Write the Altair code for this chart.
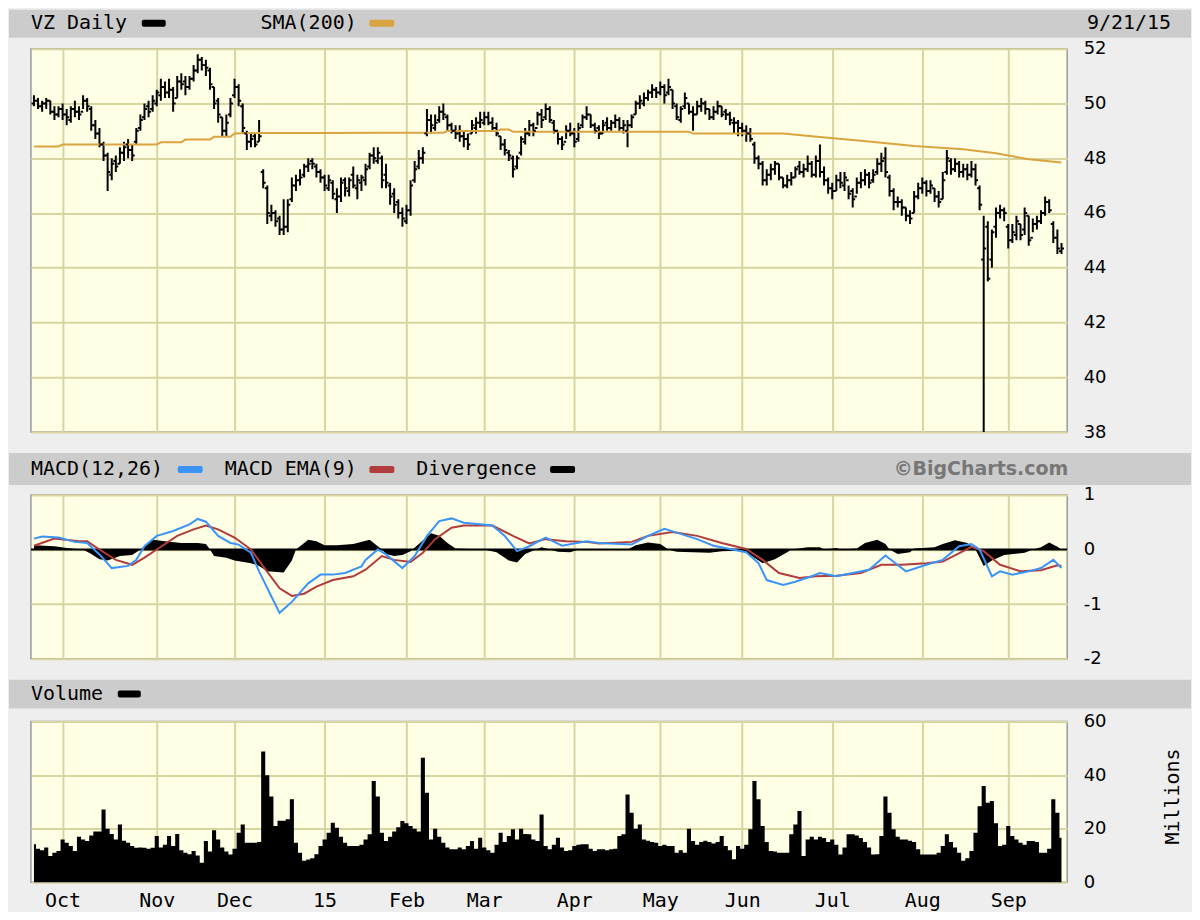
import json
import altair as alt
import pandas as pd

# ---------------- data (trading-day index 0 = 22 Sep 2014 ... 251 = 21 Sep 2015) -------------
month_names = ["Oct", "Nov", "Dec", "15", "Feb", "Mar", "Apr", "May", "Jun", "Jul", "Aug", "Sep"]
month_start_idx = [7, 30, 49, 71, 91, 110, 132, 153, 173, 195, 217, 238]

high = [
    50.3, 50.2, 50.1, 50.2, 50.1, 49.9, 49.9, 50.0, 49.8, 49.9,
    50.1, 49.9, 50.3, 50.2, 49.9, 49.4, 49.1, 48.6, 48.2, 48.0,
    48.1, 48.4, 48.6, 48.7, 48.5, 49.1, 49.6, 50.0, 50.1, 50.3,
    50.5, 50.9, 50.8, 50.9, 50.6, 51.0, 51.1, 51.0, 51.0, 51.4,
    51.8, 51.7, 51.6, 51.3, 50.6, 50.2, 49.5, 49.6, 50.2, 50.9,
    50.7, 50.0, 49.0, 48.9, 48.9, 49.4, 47.6, 47.0, 46.3, 46.1,
    45.9, 46.5, 46.5, 47.3, 47.4, 47.6, 47.8, 48.0, 48.0, 47.8,
    47.6, 47.4, 47.4, 47.2, 46.9, 47.3, 47.3, 47.3, 47.7, 47.4,
    47.4, 47.8, 48.2, 48.4, 48.4, 48.1, 47.8, 47.1, 46.9, 46.5,
    46.2, 46.3, 47.2, 47.9, 48.3, 48.4, 49.8, 49.6, 49.6, 49.9,
    50.0, 49.6, 49.3, 49.2, 49.2, 49.0, 48.9, 49.4, 49.5, 49.7,
    49.7, 49.7, 49.5, 49.3, 48.8, 48.7, 48.3, 48.1, 48.1, 48.8,
    49.1, 49.4, 49.3, 49.7, 49.8, 50.0, 49.9, 49.4, 49.0, 48.8,
    49.2, 49.3, 49.1, 49.3, 49.6, 49.9, 49.6, 49.3, 49.2, 49.4,
    49.5, 49.4, 49.6, 49.5, 49.4, 49.4, 49.6, 50.1, 50.3, 50.4,
    50.5, 50.7, 50.6, 50.8, 50.7, 50.9, 50.5, 50.0, 49.9, 50.4,
    50.0, 49.9, 50.1, 50.2, 50.1, 49.8, 49.9, 50.1, 49.9, 49.8,
    49.7, 49.5, 49.4, 49.3, 49.2, 49.1, 48.6, 48.1, 47.9, 47.6,
    47.8, 47.9, 47.8, 47.3, 47.4, 47.5, 47.7, 47.9, 47.8, 48.1,
    47.9, 48.1, 48.5, 47.7, 47.3, 47.1, 47.4, 47.5, 47.5, 47.0,
    46.9, 47.3, 47.5, 47.6, 47.5, 47.6, 48.0, 48.2, 48.4, 47.4,
    46.9, 46.6, 46.5, 46.2, 46.1, 46.8, 47.1, 47.3, 47.2, 47.2,
    46.9, 46.8, 47.5, 48.3, 48.0, 48.0, 47.9, 47.8, 47.8, 47.9,
    47.8, 47.0, 45.9, 45.7, 45.4, 46.2, 46.3, 46.2, 45.6, 45.6,
    45.9, 45.6, 46.2, 45.9, 45.8, 45.9, 46.1, 46.6, 46.5, 45.7,
    45.4, 44.9,
]
low = [
    49.9, 49.8, 49.7, 49.8, 49.6, 49.4, 49.5, 49.4, 49.2, 49.3,
    49.5, 49.4, 49.8, 49.7, 49.0, 48.7, 48.4, 47.9, 46.8, 47.2,
    47.5, 47.8, 47.9, 48.0, 47.9, 48.5, 49.0, 49.4, 49.5, 49.7,
    49.9, 50.1, 50.2, 50.2, 49.7, 50.2, 50.5, 50.3, 50.5, 50.8,
    51.1, 51.2, 51.0, 50.5, 49.8, 49.3, 48.8, 48.8, 49.5, 50.2,
    49.9, 48.9, 48.3, 48.4, 48.4, 48.6, 46.9, 45.6, 45.7, 45.5,
    45.2, 45.2, 45.3, 46.4, 46.8, 47.0, 47.3, 47.5, 47.6, 47.3,
    47.1, 46.8, 46.8, 46.5, 46.0, 46.4, 46.6, 46.6, 46.9, 46.5,
    46.8, 47.0, 47.6, 47.8, 47.8, 46.9, 46.9, 46.3, 46.0, 45.8,
    45.5, 45.6, 45.9, 47.1, 47.6, 47.8, 48.8, 48.9, 49.0, 49.3,
    49.4, 49.0, 48.9, 48.7, 48.6, 48.4, 48.3, 48.9, 48.9, 49.1,
    49.2, 49.2, 49.0, 48.8, 48.3, 48.1, 47.9, 47.3, 47.6, 48.1,
    48.5, 48.8, 48.8, 49.2, 49.1, 49.4, 49.3, 48.9, 48.5, 48.3,
    48.7, 48.8, 48.4, 48.6, 49.1, 49.4, 49.1, 48.9, 48.7, 48.9,
    49.0, 49.0, 49.1, 49.0, 48.9, 48.4, 49.1, 49.6, 49.8, 49.9,
    50.1, 50.2, 50.2, 50.3, 50.0, 50.3, 49.8, 49.4, 49.3, 49.8,
    49.6, 49.0, 49.6, 49.7, 49.6, 49.4, 49.4, 49.6, 49.5, 49.4,
    49.2, 48.9, 48.8, 48.8, 48.6, 48.6, 47.8, 47.6, 47.0, 47.0,
    47.2, 47.4, 47.2, 46.9, 46.9, 47.0, 47.3, 47.4, 47.3, 47.5,
    47.3, 47.3, 47.3, 47.0, 46.7, 46.5, 46.8, 46.9, 46.8, 46.5,
    46.2, 46.7, 46.9, 47.0, 46.9, 47.1, 47.4, 47.5, 47.3, 46.6,
    46.1, 46.2, 45.9, 45.7, 45.6, 46.0, 46.5, 46.7, 46.6, 46.7,
    46.4, 46.2, 46.5, 47.4, 47.4, 47.5, 47.3, 47.3, 47.2, 47.3,
    47.0, 46.1, 38.0, 43.5, 44.0, 45.1, 45.8, 45.7, 44.7, 44.9,
    45.0, 45.0, 45.2, 44.8, 45.3, 45.4, 45.6, 45.9, 46.0, 44.9,
    44.5, 44.5,
]
close = [
    50.1, 49.9, 50.0, 50.1, 49.7, 49.6, 49.8, 49.6, 49.5, 49.8,
    49.7, 49.6, 50.1, 49.9, 49.2, 48.9, 48.5, 48.1, 47.5, 47.8,
    47.7, 48.2, 48.4, 48.3, 48.1, 49.0, 49.4, 49.8, 49.7, 50.1,
    50.4, 50.6, 50.4, 50.5, 50.0, 50.8, 50.7, 50.6, 50.9, 51.2,
    51.6, 51.4, 51.3, 50.7, 50.0, 49.6, 49.0, 49.3, 50.0, 50.6,
    50.1, 49.1, 48.6, 48.7, 48.5, 48.8, 47.1, 46.0, 46.0, 45.7,
    45.4, 45.5, 46.3, 47.0, 47.2, 47.3, 47.7, 47.8, 47.8, 47.5,
    47.3, 47.0, 47.2, 46.7, 46.6, 47.1, 46.9, 47.2, 47.0, 47.2,
    47.3, 47.6, 48.1, 48.0, 48.2, 47.2, 47.1, 46.6, 46.3, 46.0,
    45.8, 46.1, 47.0, 47.6, 48.0, 48.2, 49.4, 49.2, 49.3, 49.7,
    49.6, 49.2, 49.0, 48.9, 48.8, 48.7, 48.5, 49.2, 49.3, 49.4,
    49.5, 49.3, 49.1, 48.9, 48.5, 48.3, 48.1, 47.6, 48.0, 48.7,
    48.9, 49.2, 49.0, 49.6, 49.4, 49.8, 49.4, 49.0, 48.7, 48.5,
    49.0, 48.9, 48.6, 49.1, 49.5, 49.6, 49.2, 49.0, 48.9, 49.2,
    49.1, 49.3, 49.4, 49.1, 49.2, 49.2, 49.5, 50.0, 50.1, 50.2,
    50.4, 50.5, 50.4, 50.6, 50.3, 50.6, 50.0, 49.5, 49.8, 50.2,
    49.7, 49.6, 49.9, 50.0, 49.8, 49.5, 49.7, 49.9, 49.6, 49.6,
    49.4, 49.3, 49.1, 49.0, 48.9, 48.7, 48.0, 47.8, 47.2, 47.4,
    47.6, 47.8, 47.3, 47.0, 47.2, 47.3, 47.6, 47.5, 47.6, 47.8,
    47.4, 47.9, 47.5, 47.2, 46.9, 46.8, 47.2, 47.1, 47.3, 46.7,
    46.5, 47.1, 47.2, 47.4, 47.1, 47.4, 47.8, 47.9, 47.5, 46.8,
    46.4, 46.4, 46.2, 45.9, 45.8, 46.6, 46.9, 47.1, 46.8, 47.0,
    46.6, 46.4, 47.2, 48.0, 47.6, 47.8, 47.5, 47.6, 47.4, 47.6,
    47.2, 46.3, 44.7, 43.6, 45.3, 46.0, 46.1, 46.0, 45.0, 45.3,
    45.7, 45.2, 46.0, 45.0, 45.6, 45.7, 46.0, 46.4, 46.1, 45.1,
    44.7, 44.7,
]
open_ = [
    50.0, 50.1, 49.9, 50.0, 50.1, 49.7, 49.6, 49.8, 49.6, 49.4,
    49.8, 49.7, 49.7, 50.1, 49.8, 49.2, 48.9, 48.5, 48.1, 47.4,
    47.9, 47.8, 48.2, 48.5, 48.3, 48.6, 49.1, 49.5, 49.9, 49.8,
    50.0, 50.3, 50.6, 50.4, 50.5, 50.2, 50.8, 50.8, 50.6, 50.9,
    51.2, 51.6, 51.4, 51.2, 50.6, 50.1, 49.5, 49.0, 49.6, 50.3,
    50.6, 49.9, 48.9, 48.6, 48.8, 48.6, 47.5, 46.9, 45.9, 46.0,
    45.8, 45.4, 45.5, 46.5, 47.0, 47.2, 47.4, 47.7, 47.9, 47.7,
    47.5, 47.3, 46.9, 47.1, 46.5, 46.6, 47.2, 46.8, 47.4, 46.9,
    47.1, 47.2, 47.7, 48.1, 47.9, 48.0, 47.4, 47.0, 46.7, 46.4,
    46.0, 45.7, 46.1, 47.2, 47.7, 48.0, 48.9, 49.4, 49.1, 49.4,
    49.7, 49.5, 49.2, 49.0, 48.9, 48.8, 48.7, 48.9, 49.1, 49.3,
    49.3, 49.5, 49.3, 49.1, 48.8, 48.5, 48.2, 48.0, 47.7, 48.2,
    48.6, 48.9, 49.2, 49.1, 49.6, 49.5, 49.8, 49.3, 49.0, 48.7,
    48.6, 49.0, 48.9, 48.7, 49.2, 49.5, 49.6, 49.2, 49.1, 48.9,
    49.3, 49.1, 49.3, 49.4, 49.1, 49.0, 49.2, 49.6, 50.0, 50.0,
    50.2, 50.4, 50.5, 50.4, 50.6, 50.4, 50.5, 49.9, 49.4, 49.9,
    50.0, 49.7, 49.6, 49.9, 50.0, 49.8, 49.5, 49.7, 49.9, 49.7,
    49.6, 49.3, 49.3, 49.1, 49.0, 48.9, 48.5, 48.0, 47.8, 47.2,
    47.4, 47.6, 47.8, 47.3, 47.0, 47.2, 47.3, 47.7, 47.5, 47.6,
    47.8, 47.4, 47.9, 47.5, 47.2, 46.9, 46.8, 47.2, 47.0, 47.2,
    46.8, 46.6, 47.1, 47.2, 47.4, 47.2, 47.5, 47.8, 48.0, 47.3,
    46.8, 46.4, 46.4, 46.2, 45.9, 46.0, 46.6, 46.9, 47.1, 46.8,
    46.9, 46.6, 46.5, 47.5, 47.9, 47.6, 47.8, 47.5, 47.6, 47.4,
    47.6, 46.9, 44.3, 45.5, 44.3, 45.5, 46.0, 46.1, 45.5, 45.0,
    45.2, 45.6, 45.4, 45.9, 45.1, 45.6, 45.7, 46.0, 46.4, 45.6,
    45.1, 44.6,
]
volume = [  # millions of shares
    14.2, 12.5, 12.0, 13.0, 9.8, 11.0, 11.7, 16.0, 14.8, 13.5,
    11.7, 17.0, 16.0, 15.4, 17.5, 19.0, 19.0, 27.2, 20.0, 18.0,
    16.0, 21.6, 15.5, 14.8, 13.5, 12.9, 13.0, 12.9, 12.5, 12.9,
    17.3, 13.0, 14.0, 17.3, 13.5, 18.0, 12.0, 11.0, 10.5, 11.7,
    10.0, 7.3, 15.4, 11.5, 19.4, 16.0, 13.0, 11.5, 10.4, 12.5,
    18.5, 21.6, 14.8, 14.8, 14.8, 15.0, 48.8, 40.0, 32.0, 21.0,
    23.0, 23.0, 23.5, 31.0, 14.8, 11.0, 8.0, 8.5, 9.0, 10.5,
    13.5, 16.0, 18.5, 22.2, 20.4, 17.0, 14.8, 13.5, 13.5, 13.5,
    14.0, 16.0, 17.9, 37.8, 32.0, 18.5, 15.4, 17.0, 19.0, 20.5,
    22.9, 22.0, 21.0, 20.0, 19.0, 46.5, 33.4, 16.0, 20.0, 17.0,
    14.8, 13.0, 12.3, 12.3, 13.0, 12.3, 13.5, 15.4, 12.5, 16.6,
    13.0, 12.0, 11.0, 14.0, 18.5, 15.0, 17.3, 19.8, 16.0, 20.0,
    18.0, 17.9, 16.0, 15.4, 25.3, 13.5, 12.3, 14.0, 16.6, 13.0,
    11.7, 12.0, 13.5, 14.0, 14.2, 14.2, 12.5, 11.7, 12.3, 12.3,
    12.0, 12.3, 12.5, 17.3, 17.9, 32.8, 26.0, 20.0, 21.6, 16.0,
    15.5, 15.0, 14.8, 13.5, 14.0, 13.5, 13.5, 11.0, 12.0, 11.0,
    20.0, 15.4, 14.0, 15.0, 15.5, 15.0, 14.5, 15.0, 17.3, 13.5,
    12.0, 8.6, 13.5, 12.5, 14.0, 19.8, 37.8, 31.0, 21.0, 15.0,
    11.7, 11.5, 11.0, 11.0, 11.0, 17.9, 21.6, 26.6, 9.8, 16.0,
    17.0, 16.0, 17.0, 16.5, 15.0, 16.0, 14.0, 10.4, 13.0, 17.9,
    17.9, 17.5, 16.5, 15.0, 13.0, 10.4, 10.5, 17.3, 32.0, 26.0,
    19.8, 17.0, 16.0, 16.0, 15.5, 15.0, 12.3, 10.4, 10.4, 10.4,
    10.4, 11.0, 13.5, 17.9, 15.0, 13.0, 11.0, 8.0, 9.0, 11.7,
    18.5, 28.4, 35.9, 29.7, 30.3, 22.0, 13.5, 14.0, 21.0, 17.3,
    16.0, 14.8, 14.0, 15.4, 15.4, 15.0, 11.0, 11.0, 12.5, 31.0,
    26.0, 16.6,
]

sma_idx = [0, 6, 7, 30, 31, 36, 37, 43, 44, 48, 49, 55, 70, 85, 100, 101, 113, 114, 116, 117,
           160, 161, 171, 183, 190, 204, 215, 227, 235, 243, 251]
sma_val = [48.43, 48.43, 48.50, 48.50, 48.58, 48.58, 48.68, 48.68, 48.78, 48.78, 48.90, 48.92,
           48.92, 48.93, 48.93, 48.99, 48.99, 49.05, 49.05, 48.97, 48.97, 48.90, 48.90, 48.90,
           48.80, 48.61, 48.45, 48.33, 48.18, 47.96, 47.84]

macd_idx = [0, 2, 6, 10, 13, 16, 19, 23, 25, 27, 30, 34, 38, 40, 42, 45, 48, 50, 53, 55, 58, 60,
            63, 67, 70, 73, 76, 80, 81, 84, 86, 90, 93, 96, 99, 102, 105, 112, 115, 118, 121, 125,
            129, 135, 138, 146, 150, 154, 157, 162, 166, 174, 177, 179, 183, 186, 190, 192, 196,
            200, 204, 208, 213, 218, 222, 226, 229, 231, 234, 236, 239, 243, 246, 249, 251]
macd_val = [0.20, 0.24, 0.22, 0.14, 0.12, -0.09, -0.34, -0.30, -0.19, 0.06, 0.25, 0.34, 0.46,
            0.56, 0.51, 0.25, 0.12, 0.09, -0.06, -0.40, -0.86, -1.16, -0.96, -0.62, -0.46, -0.46,
            -0.43, -0.31, -0.19, 0.0, -0.09, -0.34, -0.12, 0.25, 0.52, 0.57, 0.49, 0.44, 0.25,
            -0.03, 0.06, 0.22, 0.07, 0.15, 0.12, 0.09, 0.25, 0.38, 0.31, 0.19, 0.07, -0.05, -0.25,
            -0.56, -0.65, -0.59, -0.49, -0.43, -0.49, -0.43, -0.37, -0.11, -0.40, -0.28, -0.19,
            0.06, 0.10, 0.0, -0.49, -0.40, -0.46, -0.40, -0.34, -0.19, -0.34]

ema_idx = [0, 5, 11, 13, 16, 20, 24, 27, 30, 35, 39, 42, 45, 49, 53, 56, 60, 63, 66, 69, 73, 78,
           81, 85, 88, 92, 95, 98, 102, 105, 112, 117, 121, 125, 130, 135, 138, 146, 150, 156,
           162, 168, 174, 178, 182, 187, 191, 196, 202, 207, 212, 218, 222, 227, 229, 232, 236,
           241, 246, 250, 251]
ema_val = [0.07, 0.20, 0.15, 0.15, 0.0, -0.19, -0.28, -0.15, 0.0, 0.25, 0.37, 0.44, 0.37, 0.22,
           0.0, -0.31, -0.71, -0.85, -0.81, -0.68, -0.56, -0.49, -0.37, -0.12, -0.19, -0.23,
           -0.06, 0.19, 0.40, 0.44, 0.44, 0.25, 0.11, 0.19, 0.15, 0.14, 0.11, 0.14, 0.25, 0.32,
           0.25, 0.12, 0.01, -0.19, -0.43, -0.52, -0.49, -0.48, -0.43, -0.28, -0.28, -0.25,
           -0.22, -0.03, 0.05, -0.03, -0.28, -0.40, -0.38, -0.29, -0.30]

div_idx = [0, 5, 8, 12, 14, 16, 18, 21, 24, 26, 28, 29, 32, 36, 40, 42, 43, 44, 47, 49, 53, 55,
           57, 61, 63, 64, 66, 67, 69, 71, 74, 78, 82, 83, 85, 86, 88, 90, 92, 94, 97, 99, 101,
           103, 110, 113, 116, 118, 120, 122, 124, 126, 128, 131, 133, 145, 147, 150, 153, 155,
           157, 165, 168, 173, 175, 178, 181, 184, 185, 189, 192, 193, 196, 197, 201, 203, 206,
           208, 209, 211, 214, 215, 220, 222, 225, 228, 230, 232, 234, 237, 242, 244, 246, 248,
           250, 251]
div_val = [0.08, 0.06, 0.03, 0.0, -0.08, -0.18, -0.20, -0.12, -0.10, 0.0, 0.12, 0.18, 0.15,
           0.12, 0.12, 0.10, 0.0, -0.12, -0.15, -0.20, -0.25, -0.30, -0.40, -0.42, -0.20, 0.0,
           0.12, 0.18, 0.15, 0.08, 0.08, 0.10, 0.18, 0.12, 0.0, -0.08, -0.12, -0.10, -0.03, 0.10,
           0.30, 0.25, 0.12, 0.02, 0.0, -0.05, -0.20, -0.24, -0.08, -0.02, 0.04, 0.0, -0.04,
           -0.05, 0.0, 0.0, 0.08, 0.13, 0.10, 0.0, -0.04, -0.06, -0.03, -0.02, -0.10, -0.25,
           -0.18, -0.05, 0.0, 0.04, 0.04, 0.0, 0.03, 0.0, 0.02, 0.12, 0.18, 0.10, 0.0, -0.08,
           -0.05, 0.02, 0.04, 0.10, 0.17, 0.12, 0.0, -0.30, -0.20, -0.10, -0.06, 0.0, 0.04, 0.13,
           0.05, 0.0]

price_ticks = [38, 40, 42, 44, 46, 48, 50, 52]
macd_ticks = [-2, -1, 0, 1]
vol_ticks = [0, 20, 40, 60]

# ---------------- tables ----------------
days = list(range(len(close)))
price_df = pd.DataFrame({"day": days, "open": open_, "high": high, "low": low, "close": close})
vol_df = pd.DataFrame({"day": days, "vol": volume})
sma_df = pd.DataFrame({"day": sma_idx, "sma": sma_val})
macd_df = pd.DataFrame({"day": macd_idx, "v": macd_val})
ema_df = pd.DataFrame({"day": ema_idx, "v": ema_val})
div_df = pd.DataFrame({"day": div_idx, "v": div_val})

# ---------------- style ----------------
MONO = "DejaVu Sans Mono"
SANS = "DejaVu Sans"
W = 1038
PLOT_BG = "#ffffe6"
GRID = "#d8d5a0"
HEADER_BG = "#cccccc"
PAGE_BG = "#eeeeee"
ORANGE = "#d9a441"
BLUE = "#3a94f5"
RED = "#b23b3b"

xs = alt.Scale(domain=[-0.73, 252.4], nice=False, zero=False)
label_expr = f"{json.dumps(month_names)}[indexof({json.dumps(month_start_idx)}, datum.value)]"


def x_axis(labels):
    if labels:
        return alt.Axis(values=month_start_idx, grid=True, gridColor=GRID, gridWidth=2,
                        domain=False, ticks=False, title=None, labels=True,
                        labelExpr=label_expr, labelFont=MONO, labelFontSize=20,
                        labelColor="black", labelPadding=8, labelFlush=False,
                        labelOverlap=False)
    return alt.Axis(values=month_start_idx, grid=True, gridColor=GRID, gridWidth=2,
                    domain=False, ticks=False, title=None, labels=False)


def y_axis(values):
    return alt.Axis(orient="right", values=values, grid=True, gridColor=GRID, gridWidth=2,
                    domain=False, ticks=False, title=None, labelFont=SANS, labelFontSize=18,
                    labelColor="black", labelPadding=16, labelOverlap=False,
                    labelExpr="'' + datum.value")


plot_view = alt.ViewBackground(fill=PLOT_BG, stroke="#9a9a9a", strokeWidth=1.5)
blank_view = alt.ViewBackground(fill="transparent", stroke="transparent")
dummy = alt.Data(values=[{"k": 0}])


def header(h, y0, y1, ty, texts, swatches):
    layers = [alt.Chart(dummy).mark_rect(color=HEADER_BG).encode(
        x=alt.value(-22), x2=alt.value(1162), y=alt.value(y0), y2=alt.value(y1))]
    for txt, tx, align, font, size, weight, color in texts:
        layers.append(alt.Chart(dummy).mark_text(
            text=txt, align=align, baseline="middle", font=font, fontSize=size,
            fontWeight=weight, color=color).encode(x=alt.value(tx), y=alt.value(ty)))
    for sx0, sx1, color in swatches:
        layers.append(alt.Chart(dummy).mark_rect(color=color, cornerRadius=2).encode(
            x=alt.value(sx0), x2=alt.value(sx1), y=alt.value(ty - 3), y2=alt.value(ty + 4)))
    return alt.layer(*layers).properties(width=W, height=h, view=blank_view)


h1 = header(39, 0, 28, 13,
            [("VZ Daily", 0, "left", MONO, 20, "normal", "black"),
             ("SMA(200)", 230, "left", MONO, 20, "normal", "black"),
             ("9/21/15", 1142, "right", MONO, 20, "normal", "black")],
            [(111, 135, "black"), (339, 364, ORANGE)])

h2 = header(63, 21, 53, 37,
            [("MACD(12,26)", 0, "left", MONO, 20, "normal", "black"),
             ("MACD EMA(9)", 194, "left", MONO, 20, "normal", "black"),
             ("Divergence", 386, "left", MONO, 20, "normal", "black"),
             ("©BigCharts.com", 1039, "right", SANS, 19, "bold", "#777777")],
            [(147, 172, BLUE), (339, 364, RED), (520, 545, "black")])

h3 = header(63, 21, 50, 35,
            [("Volume", 0, "left", MONO, 20, "normal", "black")],
            [(87, 110, "black")])

# ---------------- price panel ----------------
ys_price = alt.Scale(domain=[38, 52], nice=False, zero=False)
pbase = alt.Chart(price_df)
hl = pbase.mark_rule(color="black", strokeWidth=2, clip=True).encode(
    x=alt.X("day:Q", scale=xs, axis=x_axis(False)),
    y=alt.Y("low:Q", scale=ys_price, axis=y_axis(price_ticks)),
    y2="high:Q")
op = pbase.mark_rule(color="black", strokeWidth=2, xOffset=-2.5, x2Offset=0, clip=True).encode(
    x=alt.X("day:Q", scale=xs), x2="day:Q", y=alt.Y("open:Q", scale=ys_price))
cl = pbase.mark_rule(color="black", strokeWidth=2, xOffset=0, x2Offset=2.5, clip=True).encode(
    x=alt.X("day:Q", scale=xs), x2="day:Q", y=alt.Y("close:Q", scale=ys_price))
sma = alt.Chart(sma_df).mark_line(color=ORANGE, strokeWidth=2).encode(
    x=alt.X("day:Q", scale=xs), y=alt.Y("sma:Q", scale=ys_price))
price = alt.layer(hl, sma, op, cl).properties(width=W, height=384, view=plot_view)

# ---------------- MACD panel ----------------
ys_macd = alt.Scale(domain=[-2, 1], nice=False, zero=False)
div = alt.Chart(div_df).mark_area(color="black").encode(
    x=alt.X("day:Q", scale=xs, axis=x_axis(False)),
    y=alt.Y("v:Q", scale=ys_macd, axis=y_axis(macd_ticks)),
    y2=alt.datum(0))
zero = alt.Chart(dummy).mark_rule(color="black", strokeWidth=2).encode(y=alt.datum(0))
ema = alt.Chart(ema_df).mark_line(color=RED, strokeWidth=2).encode(
    x=alt.X("day:Q", scale=xs), y=alt.Y("v:Q", scale=ys_macd))
macd = alt.Chart(macd_df).mark_line(color=BLUE, strokeWidth=2).encode(
    x=alt.X("day:Q", scale=xs), y=alt.Y("v:Q", scale=ys_macd))
macd_panel = alt.layer(div, zero, ema, macd).properties(width=W, height=164, view=plot_view)

# ---------------- volume panel ----------------
ys_vol = alt.Scale(domain=[0, 60], nice=False, zero=True)
vol = alt.Chart(vol_df).mark_area(color="black", interpolate="step").encode(
    x=alt.X("day:Q", scale=xs, axis=x_axis(True)),
    y=alt.Y("vol:Q", scale=ys_vol, axis=y_axis(vol_ticks)),
    y2=alt.datum(0))
millions = alt.Chart(dummy).mark_text(
    text="Millions", angle=270, font=MONO, fontSize=20, color="black",
    align="center", baseline="middle").encode(x=alt.value(1144), y=alt.value(75))
vol_panel = alt.layer(vol, millions).properties(width=W, height=161, view=plot_view)

chart = alt.vconcat(h1, price, h2, macd_panel, h3, vol_panel, spacing=0, bounds="flush").properties(
    padding={"left": 0, "top": 0, "right": 0, "bottom": 0}
).configure(background=PAGE_BG)

chart.save("out.html", embed_options={"renderer": "svg", "actions": False})
